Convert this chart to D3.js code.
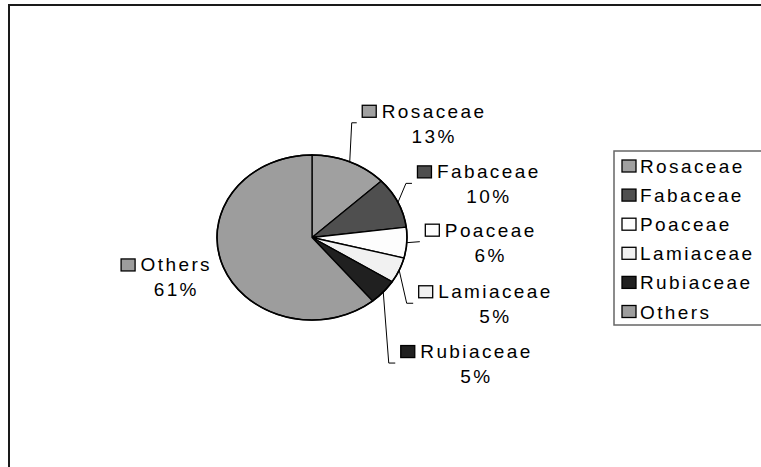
<!DOCTYPE html>
<html>
<head>
<meta charset="utf-8">
<script src="https://cdn.jsdelivr.net/npm/d3@7"></script>
<style>
  body { margin: 0; background: #fff; }
  svg text { font-family: "Liberation Sans", Arial, sans-serif; font-size: 19px; letter-spacing: 2.4px; fill: #000; }
</style>
</head>
<body>
<svg id="chart" width="761" height="467"></svg>
<script>
// data
var families = ["Rosaceae", "Fabaceae", "Poaceae", "Lamiaceae", "Rubiaceae", "Others"];
var shares = [13, 10, 6, 5, 5, 61];
var fills = ["#a0a0a0", "#4f4f4f", "#fdfdfd", "#f1f1f1", "#202020", "#9d9d9d"];

// label placement: end of leader, relative to slice edge at mid angle
var labelOffset = [[7, -39], [14, -19], [13, -1], [14, 33], [12, 71], [-13, 11]];
var elbowBack = [5, 6, 0, 6.5, 6.5, null];

var svg = d3.select("#chart");
var cx = 312, cy = 237.5, rx = 95, ry = 82.5;
var ls = 2.4;

// outer frame (runs off right / bottom)
svg.append("rect")
  .attr("x", 9).attr("y", 5)
  .attr("width", 800).attr("height", 500)
  .attr("fill", "#fff")
  .attr("stroke", "#1a1a1a")
  .attr("stroke-width", 2);

var pie = d3.pie().sort(null).value(function (d) { return d; });
var arcs = pie(shares);
var arc = d3.arc().innerRadius(0).outerRadius(ry);

var g = svg.append("g")
  .attr("transform", "translate(" + cx + "," + cy + ") scale(" + (rx / ry) + ",1)");

g.selectAll("path")
  .data(arcs)
  .enter().append("path")
  .attr("d", arc)
  .attr("fill", function (d, i) { return fills[i]; })
  .attr("stroke", "#000")
  .attr("stroke-width", 1.3)
  .attr("vector-effect", "non-scaling-stroke");

g.append("ellipse")
  .attr("rx", ry).attr("ry", ry)
  .attr("fill", "none")
  .attr("stroke", "#000")
  .attr("stroke-width", 1.6)
  .attr("vector-effect", "non-scaling-stroke");

function edgePoint(a) {
  return [cx + rx * Math.sin(a), cy - ry * Math.cos(a)];
}

// data labels
arcs.forEach(function (d, i) {
  var mid = (d.startAngle + d.endAngle) / 2;
  var p0 = edgePoint(mid);
  var end = [p0[0] + labelOffset[i][0], p0[1] + labelOffset[i][1]];
  var lab = svg.append("g");

  if (elbowBack[i] !== null) {
    var pts = [p0];
    if (elbowBack[i] > 0) pts.push([end[0] - elbowBack[i], end[1]]);
    pts.push(end);
    svg.append("path")
      .attr("d", d3.line()(pts))
      .attr("fill", "none")
      .attr("stroke", "#000")
      .attr("stroke-width", 1);
  }

  var name = lab.append("text")
    .attr("x", 20).attr("y", end[1] - 5)
    .text(families[i]);
  var w = name.node().getComputedTextLength() - ls;

  lab.append("rect")
    .attr("x", 0.5).attr("y", end[1] - 17.5)
    .attr("width", 14).attr("height", 12)
    .attr("fill", fills[i])
    .attr("stroke", "#000")
    .attr("stroke-width", 1.3);

  lab.append("text")
    .attr("x", 20 + w / 2 + ls / 2).attr("y", end[1] + 20)
    .attr("text-anchor", "middle")
    .text(shares[i] + "%");

  var left = elbowBack[i] === null ? end[0] - 20 - w : end[0] + 5;
  lab.attr("transform", "translate(" + left + ",0)");
});

// legend
var lx = 614, ly = 151;
svg.append("rect")
  .attr("x", lx).attr("y", ly)
  .attr("width", 200).attr("height", 174)
  .attr("fill", "#fff")
  .attr("stroke", "#666")
  .attr("stroke-width", 1.5);

var rowY = d3.scalePoint().domain(families).range([166, 311.5]);

var item = svg.selectAll(".legend-item")
  .data(families)
  .enter().append("g")
  .attr("class", "legend-item")
  .attr("transform", function (d) { return "translate(" + (lx + 8) + "," + rowY(d) + ")"; });

item.append("rect")
  .attr("x", 0).attr("y", -6)
  .attr("width", 14).attr("height", 12)
  .attr("fill", function (d, i) { return fills[i]; })
  .attr("stroke", "#000")
  .attr("stroke-width", 1.3);

item.append("text")
  .attr("x", 18).attr("y", 7)
  .text(function (d) { return d; });
</script>
</body>
</html>
